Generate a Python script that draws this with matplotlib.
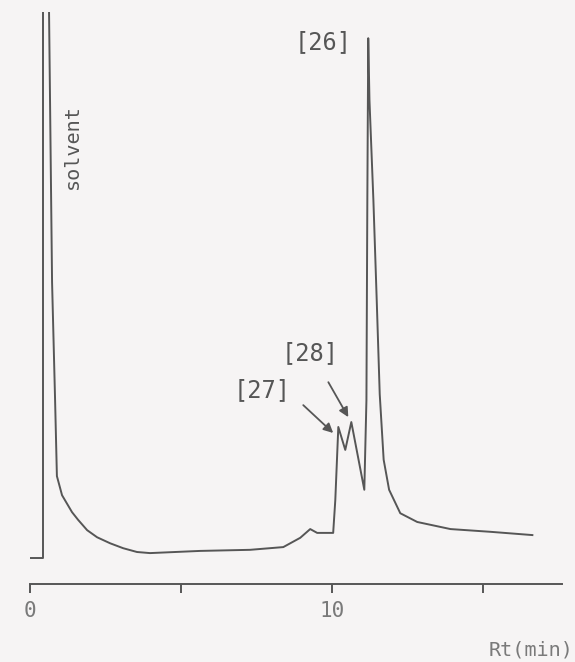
import matplotlib
matplotlib.use("Agg")
import matplotlib.pyplot as plt

rt = [0.0, 0.43, 0.43, 0.53, 0.63, 0.73, 0.83, 0.89, 1.06, 1.39, 1.59, 1.89,
      2.22, 2.65, 3.08, 3.54, 3.97, 5.63, 7.28, 8.38, 8.94, 9.27, 9.50, 10.03,
      10.10, 10.20, 10.43, 10.63, 11.06, 11.13, 11.16, 11.19, 11.23, 11.36,
      11.47, 11.57, 11.70, 11.88, 12.25, 12.81, 13.91, 15.23, 16.62]
signal = [0.0, 0.0, 110.0, 118.0, 100.0, 50.5, 28.9, 15.0, 11.5, 8.4, 7.0, 5.1,
          3.8, 2.7, 1.8, 1.1, 0.9, 1.3, 1.5, 2.0, 3.7, 5.3, 4.6, 4.6,
          10.6, 24.0, 19.8, 24.9, 12.5, 28.9, 65.6, 95.2, 83.9, 65.6,
          47.3, 30.0, 18.0, 12.5, 8.2, 6.6, 5.3, 4.8, 4.2]

peak_labels = ["[26]", "[27]", "[28]"]
label_xy = [(9.70, 94.5), (7.68, 30.8), (9.27, 37.5)]
arrow_from = [None, (9.04, 28.0), (9.87, 32.2)]
arrow_to = [None, (10.03, 22.9), (10.53, 25.8)]

xticks = [0, 5, 10, 15]
xticklabels = ["0", "", "10", ""]

ink = "#565656"
paper = "#f6f4f4"
mono = "DejaVu Sans Mono"

fig = plt.figure(figsize=(5.75, 6.62), dpi=100, facecolor=paper)
ax = fig.add_axes([30 / 575, 78 / 662, 532 / 575, 572 / 662])
ax.set_facecolor(paper)

ax.plot(rt, signal, color=ink, lw=1.4, solid_joinstyle="round")

ax.set_xlim(0, 17.6)
ax.set_ylim(-4.76, 100)

for side in ["top", "right", "left"]:
    ax.spines[side].set_visible(False)
ax.spines["bottom"].set_color(ink)
ax.spines["bottom"].set_linewidth(1.4)
ax.set_yticks([])
ax.set_xticks(xticks)
ax.set_xticklabels(xticklabels, fontfamily=mono, fontsize=15, color="#7a7a7a")
ax.tick_params(axis="x", direction="out", length=6.5, width=1.4, color=ink, pad=6)

for lab, xy, a0, a1 in zip(peak_labels, label_xy, arrow_from, arrow_to):
    ax.text(xy[0], xy[1], lab, fontfamily=mono, fontsize=17, color=ink,
            ha="center", va="center")
    if a0 is not None:
        ax.annotate("", xy=a1, xytext=a0,
                    arrowprops=dict(arrowstyle="-|>", color=ink, lw=1.3,
                                    mutation_scale=14, shrinkA=0, shrinkB=0))

ax.text(1.39, 75.3, "solvent", fontfamily=mono, fontsize=14.5, color=ink,
        rotation=90, ha="center", va="center")

fig.text(573 / 575, 12 / 662, "Rt(min)", fontfamily=mono, fontsize=14.5,
         color="#7a7a7a", ha="right", va="center")

fig.savefig("out.png", dpi=100, facecolor=paper)
